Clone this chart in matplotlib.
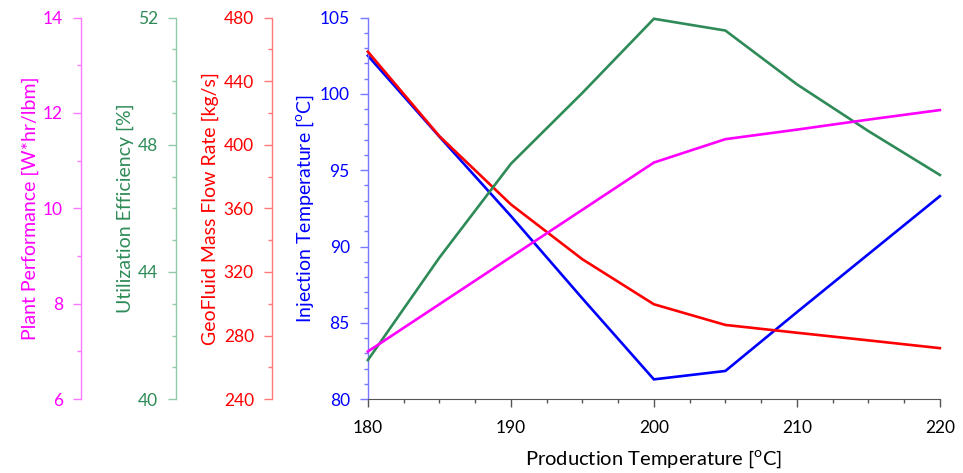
import numpy as np
import matplotlib.pyplot as plt
from matplotlib.ticker import MultipleLocator

plt.rcParams.update({
    'font.family': ['Lato', 'DejaVu Sans'],
    'font.size': 12.5,
    'mathtext.fontset': 'custom',
    'mathtext.rm': 'Lato',
})

# data
prod_temp = [180, 185, 190, 195, 200, 205, 210, 215, 220]
inj_temp = [102.5, 97.2, 92.0, 86.6, 81.3, 81.85, 85.7, 89.5, 93.3]
mass_flow = [458.5, 405.4, 362.5, 328.0, 299.7, 286.7, 281.8, 277.0, 272.1]
util_eff = [41.23, 44.45, 47.4, 49.63, 51.96, 51.59, 49.9, 48.43, 47.05]
plant_perf = [7.0, 7.99, 8.98, 9.97, 10.96, 11.45, 11.65, 11.86, 12.06]

deg = r'[$^{\mathrm{o}}$C]'

fig = plt.figure(figsize=(9.63, 4.73), dpi=100)
ax = fig.add_axes([0.382, 0.156, 0.594, 0.807])

# (axis, values, label, color, spine color, ylim, major, minor, position)
specs = [
    ('host', inj_temp, 'Injection Temperature ' + deg, '#0000FF', '#7777FF', (80, 105), 5, 1, 0.0),
    ('twin', mass_flow, 'GeoFluid Mass Flow Rate [kg/s]', '#FF0000', '#FF7777', (240, 480), 40, 20, -0.1677),
    ('twin', util_eff, 'Utilization Efficiency [%]', '#2E8B57', '#8FCBA8', (40, 52), 4, 1, -0.335),
    ('twin', plant_perf, 'Plant Performance [W*hr/lbm]', '#FF00FF', '#FF77FF', (6, 14), 2, 1, -0.5015),
]

for kind, vals, label, col, scol, ylim, major, minor, pos in specs:
    a = ax if kind == 'host' else ax.twinx()
    a.plot(prod_temp, vals, color=col, lw=1.9, solid_joinstyle='miter', clip_on=False)
    a.set_ylim(*ylim)
    a.yaxis.set_major_locator(MultipleLocator(major))
    a.yaxis.set_minor_locator(MultipleLocator(minor))
    for s in ['top', 'right', 'bottom', 'left']:
        a.spines[s].set_visible(False)
    a.spines['left'].set_visible(True)
    a.spines['left'].set_position(('axes', pos))
    a.spines['left'].set_color(scol)
    a.spines['left'].set_linewidth(1.0)
    a.yaxis.set_ticks_position('left')
    a.yaxis.set_label_position('left')
    a.tick_params(axis='y', which='major', length=6, width=1.0, color=scol,
                  labelcolor=col, pad=7, labelsize=12.5)
    a.tick_params(axis='y', which='minor', length=3, width=1.0, color=scol)
    a.set_ylabel(label, color=col, fontsize=14, labelpad=3)

ax.spines['bottom'].set_visible(True)
ax.spines['bottom'].set_color('#555555')
ax.set_xlim(180, 220)
ax.xaxis.set_major_locator(MultipleLocator(10))
ax.xaxis.set_minor_locator(MultipleLocator(2.5))
ax.tick_params(axis='x', which='major', length=6, width=1.0, color='#555555', pad=9)
ax.tick_params(axis='x', which='minor', length=3, width=1.0, color='#555555')
ax.set_xlabel('Production Temperature ' + deg, fontsize=14.5, labelpad=9)

fig.savefig('out.png', dpi=100)
